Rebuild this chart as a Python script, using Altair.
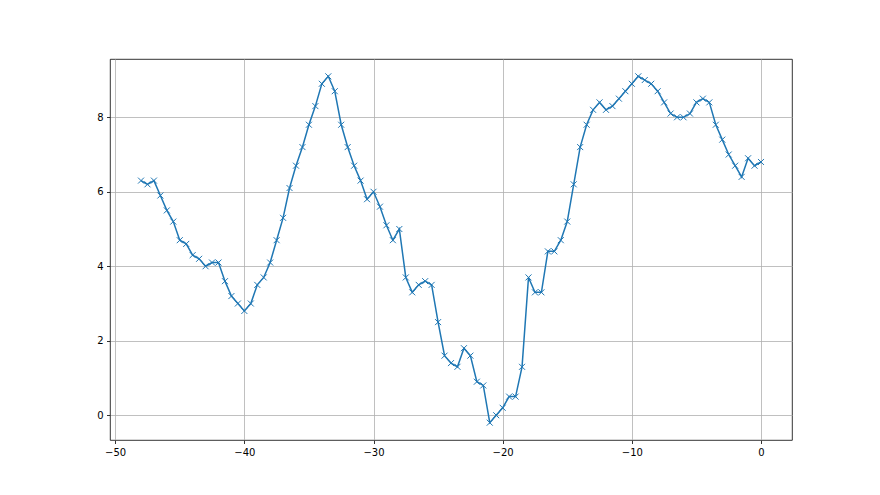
import altair as alt
import pandas as pd

x_values = [
    -48.0, -47.5, -47.0, -46.5, -46.0, -45.5, -45.0, -44.5, -44.0, -43.5,
    -43.0, -42.5, -42.0, -41.5, -41.0, -40.5, -40.0, -39.5, -39.0, -38.5,
    -38.0, -37.5, -37.0, -36.5, -36.0, -35.5, -35.0, -34.5, -34.0, -33.5,
    -33.0, -32.5, -32.0, -31.5, -31.0, -30.5, -30.0, -29.5, -29.0, -28.5,
    -28.0, -27.5, -27.0, -26.5, -26.0, -25.5, -25.0, -24.5, -24.0, -23.5,
    -23.0, -22.5, -22.0, -21.5, -21.0, -20.5, -20.0, -19.5, -19.0, -18.5,
    -18.0, -17.5, -17.0, -16.5, -16.0, -15.5, -15.0, -14.5, -14.0, -13.5,
    -13.0, -12.5, -12.0, -11.5, -11.0, -10.5, -10.0, -9.5, -9.0, -8.5,
    -8.0, -7.5, -7.0, -6.5, -6.0, -5.5, -5.0, -4.5, -4.0, -3.5,
    -3.0, -2.5, -2.0, -1.5, -1.0, -0.5, 0.0,
]
y_values = [
    6.3, 6.2, 6.3, 5.9, 5.5, 5.2, 4.7, 4.6, 4.3, 4.2,
    4.0, 4.1, 4.1, 3.6, 3.2, 3.0, 2.8, 3.0, 3.5, 3.7,
    4.1, 4.7, 5.3, 6.1, 6.7, 7.2, 7.8, 8.3, 8.9, 9.1,
    8.7, 7.8, 7.2, 6.7, 6.3, 5.8, 6.0, 5.6, 5.1, 4.7,
    5.0, 3.7, 3.3, 3.5, 3.6, 3.5, 2.5, 1.6, 1.4, 1.3,
    1.8, 1.6, 0.9, 0.8, -0.2, 0.0, 0.2, 0.5, 0.5, 1.3,
    3.7, 3.3, 3.3, 4.4, 4.4, 4.7, 5.2, 6.2, 7.2, 7.8,
    8.2, 8.4, 8.2, 8.3, 8.5, 8.7, 8.9, 9.1, 9.0, 8.9,
    8.7, 8.4, 8.1, 8.0, 8.0, 8.1, 8.4, 8.5, 8.4, 7.8,
    7.4, 7.0, 6.7, 6.4, 6.9, 6.7, 6.8,
]
x_ticks = [-50, -40, -30, -20, -10, 0]
y_ticks = [0, 2, 4, 6, 8]

df = pd.DataFrame({"x": x_values, "y": y_values})

xs = alt.Scale(domain=[-50.4, 2.4], nice=False, zero=False)
ys = alt.Scale(domain=[-0.665, 9.565], nice=False, zero=False)

axis_common = dict(
    title=None,
    grid=True,
    gridColor="#b0b0b0",
    gridWidth=0.8,
    domain=False,
    ticks=True,
    tickColor="black",
    tickSize=3.5,
    tickWidth=0.8,
    labelFont="DejaVu Sans",
    labelFontSize=10,
    labelColor="black",
    labelPadding=3.5,
)

base = alt.Chart(df).encode(
    x=alt.X("x:Q", scale=xs, axis=alt.Axis(values=x_ticks, format="d", **axis_common)),
    y=alt.Y("y:Q", scale=ys, axis=alt.Axis(values=y_ticks, format="d", **axis_common)),
)

line = base.mark_line(color="#1f77b4", strokeWidth=1.5, clip=True)
pts = base.mark_point(
    shape="M-1,-1L1,1M-1,1L1,-1",
    size=36,
    filled=False,
    color="#1f77b4",
    strokeWidth=1,
    opacity=1,
)

chart = (
    alt.layer(line, pts)
    .properties(
        width=682,
        height=381,
        autosize=alt.AutoSizeParams(type="none"),
        padding={"left": 102, "top": 51, "right": 72, "bottom": 40},
        background="white",
    )
    .configure_view(stroke="black", strokeWidth=0.8)
)

chart.save("out.html", embed_options={"renderer": "svg", "actions": False})
